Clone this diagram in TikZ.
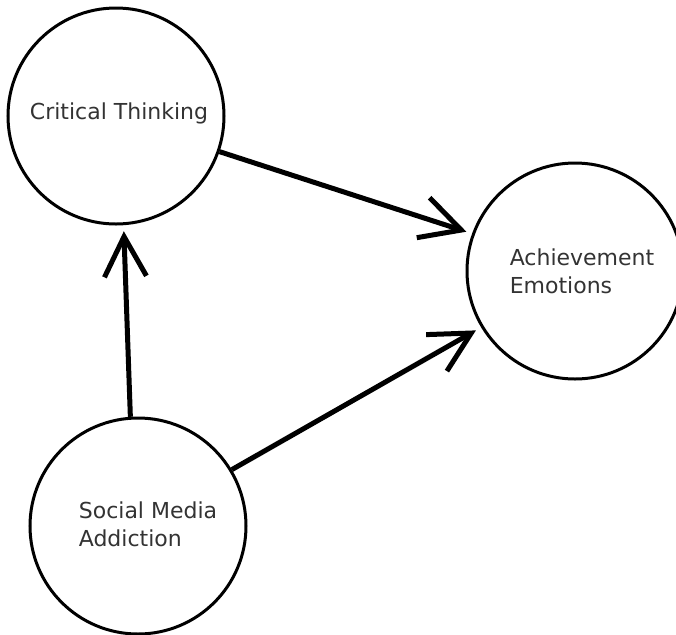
\documentclass[tikz,border=0pt]{standalone}
\usepackage{fontspec}
\setmainfont{DejaVu Sans}
\usetikzlibrary{arrows.meta}

\tikzset{
  var/.style={circle,draw,line width=1.5pt,minimum size=108pt,inner sep=0pt},
  varlabel/.style={text=black!80,font=\fontsize{11}{14}\selectfont,align=left,inner sep=0pt},
  link/.style={->,line width=2.5pt,shorten >=3pt}
}

\begin{document}
\begin{tikzpicture}[x=0.5pt,y=-0.5pt,>={Straight Barb[length=20pt,width=21pt]}]
            \useasboundingbox (0,0) rectangle (676,634);
            \node[var,label={[varlabel,xshift=1.5pt,yshift=1.5pt]center:Critical Thinking}] (ct) at (116,116) {};
            \node[var,label={[varlabel,xshift=3.5pt]center:{Achievement\\Emotions}}] (ae) at (575,271) {};
            \node[var,label={[varlabel,xshift=5pt,yshift=1pt]center:{Social Media\\Addiction}}] (sma) at (138,526) {};
            \draw[link] (sma.94) -- (ct.-86);
            \draw[link] (ct.-19) -- (ae.160);
            \draw[link] (sma.31) -- (ae.211);
        \end{tikzpicture}
\end{document}
